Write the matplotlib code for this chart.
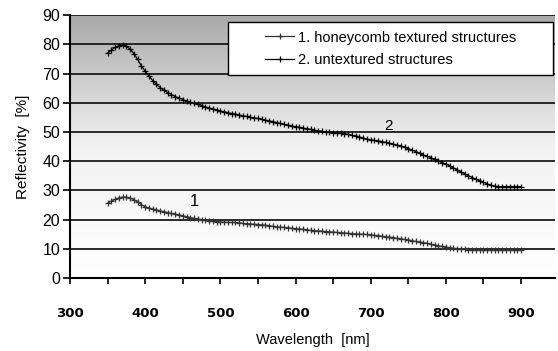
import matplotlib
matplotlib.use("Agg")
import matplotlib.pyplot as plt
import numpy as np
from matplotlib.colors import LinearSegmentedColormap
from matplotlib.patches import Rectangle

# wavelength grid [nm], 5 nm step
wavelength = list(range(350, 905, 5))

# 2. untextured structures
untextured = [
    77.0, 78.0, 79.0, 79.5, 79.6, 79.3, 78.4, 76.8, 74.8, 72.6,   # 350-395
    70.8, 69.2, 67.6, 66.3, 65.2, 64.2, 63.5, 62.8, 62.1, 61.6,   # 400-445
    61.1, 60.6, 60.2, 59.8, 59.4, 59.0, 58.6, 58.2, 57.9, 57.5,   # 450-495
    57.2, 56.9, 56.6, 56.3, 56.1, 55.8, 55.5, 55.3, 55.0, 54.8,   # 500-545
    54.6, 54.3, 54.0, 53.8, 53.5, 53.2, 52.9, 52.6, 52.3, 52.0,   # 550-595
    51.8, 51.6, 51.3, 51.1, 50.9, 50.6, 50.4, 50.2, 50.0, 49.9,   # 600-645
    49.8, 49.7, 49.6, 49.4, 49.2, 48.9, 48.6, 48.3, 47.9, 47.6,   # 650-695
    47.3, 47.1, 46.9, 46.7, 46.4, 46.1, 45.8, 45.5, 45.2, 44.8,   # 700-745
    44.3, 43.8, 43.3, 42.7, 42.1, 41.7, 41.2, 40.6, 40.0, 39.5,   # 750-795
    39.0, 38.4, 37.7, 37.0, 36.3, 35.7, 35.0, 34.4, 33.8, 33.3,   # 800-845
    32.8, 32.2, 31.7, 31.4, 31.3, 31.3, 31.3, 31.3, 31.3, 31.3,   # 850-895
    31.3,                                                         # 900
]

# 1. honeycomb textured structures
honeycomb = [
    25.6, 26.3, 26.9, 27.4, 27.7, 27.7, 27.4, 26.8, 26.0, 25.1,   # 350-395
    24.4, 24.0, 23.6, 23.3, 23.0, 22.7, 22.4, 22.1, 21.9, 21.6,   # 400-445
    21.3, 21.0, 20.7, 20.4, 20.2, 20.0, 19.8, 19.6, 19.5, 19.3,   # 450-495
    19.2, 19.1, 19.0, 19.0, 19.0, 18.9, 18.7, 18.6, 18.5, 18.4,   # 500-545
    18.3, 18.2, 18.1, 17.9, 17.7, 17.5, 17.4, 17.3, 17.2, 17.0,   # 550-595
    16.9, 16.8, 16.7, 16.5, 16.3, 16.2, 16.1, 16.0, 15.9, 15.8,   # 600-645
    15.7, 15.6, 15.5, 15.4, 15.3, 15.2, 15.1, 15.0, 15.0, 14.9,   # 650-695
    14.8, 14.6, 14.5, 14.3, 14.1, 14.0, 13.8, 13.6, 13.4, 13.2,   # 700-745
    13.0, 12.8, 12.5, 12.3, 12.1, 11.9, 11.6, 11.3, 11.0, 10.8,   # 750-795
    10.6, 10.4, 10.2, 10.0, 9.9, 9.8, 9.7, 9.6, 9.6, 9.5,         # 800-845
    9.5, 9.5, 9.5, 9.5, 9.5, 9.5, 9.5, 9.5, 9.5, 9.5,             # 850-895
    9.5,                                                          # 900
]

labels = ["1. honeycomb textured structures", "2. untextured structures"]
x_ticks = [300, 400, 500, 600, 700, 800, 900]
y_ticks = [0, 10, 20, 30, 40, 50, 60, 70, 80, 90]


def main():
    fig = plt.figure(figsize=(5.58, 3.51), dpi=100)
    ax = fig.add_axes([0.1254, 0.208, 0.869, 0.749])

    x_min, x_max = 300, 945
    y_min, y_max = 0, 90

    # grey-to-white gradient background
    cmap = LinearSegmentedColormap.from_list("bg", ["#ffffff", "#f2f2f2", "#a9a9a9"])
    grad = np.linspace(0, 1, 256).reshape(-1, 1)
    ax.imshow(grad, cmap=cmap, origin="lower", aspect="auto",
              extent=[x_min, x_max, y_min, y_max], zorder=0)

    for y in y_ticks[1:]:
        ax.axhline(y, color="#1a1a1a", linewidth=1.3, zorder=1)

    ax.plot(wavelength, honeycomb, color="#333333", linewidth=0.9,
            marker="+", markersize=4, markeredgewidth=0.9, label=labels[0], zorder=3)
    ax.plot(wavelength, untextured, color="black", linewidth=0.9,
            marker="+", markersize=4, markeredgewidth=0.9, label=labels[1], zorder=3)

    ax.text(466, 23.5, "1", fontsize=12, ha="center", va="bottom",
            family="Liberation Sans", zorder=4)
    ax.text(724, 49.5, "2", fontsize=11, ha="center", va="bottom",
            family="Liberation Sans", zorder=4)

    ax.set_xlim(x_min, x_max)
    ax.set_ylim(y_min, y_max)
    ax.set_xticks(x_ticks)
    ax.set_xticks(list(range(350, 950, 100)), minor=True)
    ax.set_yticks(y_ticks)
    ax.set_xticklabels([str(t) for t in x_ticks], fontsize=9.5,
                       family="Liberation Sans Narrow", fontweight="bold")
    ax.set_yticklabels([str(t) for t in y_ticks], fontsize=11.5, family="Liberation Sans")
    ax.tick_params(axis="x", which="both", length=4, width=1.2, direction="out", pad=17)
    ax.tick_params(axis="y", length=5, width=1.2, direction="out", pad=2)

    for side in ["top", "right"]:
        ax.spines[side].set_visible(False)
    for side in ["left", "bottom"]:
        ax.spines[side].set_linewidth(1.5)

    ax.set_xlabel("Wavelength  [nm]", fontsize=10.5, family="Liberation Sans", labelpad=9)
    ax.set_ylabel("Reflectivity  [%]", fontsize=11, family="Liberation Sans", labelpad=9)

    # legend box drawn by hand, legend text centred inside it
    box = Rectangle((0.326, 0.772), 0.67, 0.201, transform=ax.transAxes,
                    facecolor="white", edgecolor="black", linewidth=1.0, zorder=5)
    ax.add_patch(box)
    leg = ax.legend(loc="center", bbox_to_anchor=(0.661, 0.8725), frameon=False,
                    prop={"family": "Liberation Sans", "size": 10.5},
                    handlelength=2.0, borderpad=0, labelspacing=0.55, handletextpad=0.25,
                    borderaxespad=0)
    leg.set_zorder(6)

    fig.savefig("out.png", dpi=100)


if __name__ == '__main__':
    main()
